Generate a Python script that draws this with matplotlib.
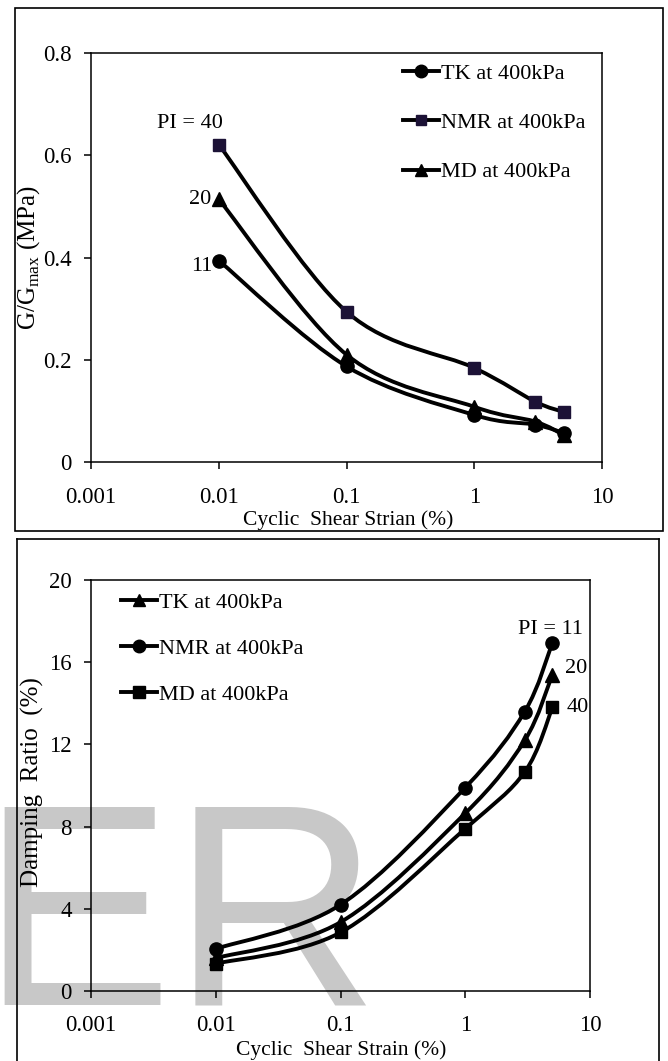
"""Modulus reduction and damping ratio curves at 400 kPa."""
import numpy as np
import matplotlib
matplotlib.use("Agg")
import matplotlib.pyplot as plt
from matplotlib.path import Path
from matplotlib.patches import PathPatch, Rectangle
from matplotlib.lines import Line2D

# --- data ---
strain = [0.01, 0.1, 1, 3, 5]

# top panel: G/Gmax
g_tk = [0.394, 0.187, 0.092, 0.073, 0.057]
g_nmr = [0.621, 0.294, 0.184, 0.118, 0.098]
g_md = [0.514, 0.210, 0.108, 0.079, 0.053]

# bottom panel: damping ratio (%)
d_tk = [1.6, 3.35, 8.65, 12.2, 15.4]
d_nmr = [2.05, 4.2, 9.9, 13.6, 16.95]
d_md = [1.33, 2.85, 7.9, 10.66, 13.8]

xticks = [0.001, 0.01, 0.1, 1, 10]
xtick_labels = ["0.001", "0.01", "0.1", "1", "10"]
g_ticks = [0, 0.2, 0.4, 0.6, 0.8]
g_tick_labels = ["0", "0.2", "0.4", "0.6", "0.8"]
d_ticks = [0, 4, 8, 12, 16, 20]
d_tick_labels = ["0", "4", "8", "12", "16", "20"]

plt.rcParams.update({
    "font.family": ["Liberation Serif", "DejaVu Serif"],
    "font.size": 16,
    "axes.linewidth": 1.1,
    "xtick.major.size": 5,
    "ytick.major.size": 5,
    "xtick.direction": "out",
    "ytick.direction": "out",
})

NAVY = "#1c1236"
LW = 2.8


def smooth_path(xs, ys):
    """Excel-like smoothed line: Catmull-Rom Bezier in (log x, y)."""
    pts = np.column_stack([np.log10(xs), np.asarray(ys, dtype=float)])
    n = len(pts)
    verts = [pts[0]]
    codes = [Path.MOVETO]
    for i in range(n - 1):
        p0 = pts[i - 1] if i > 0 else pts[i]
        p1, p2 = pts[i], pts[i + 1]
        p3 = pts[i + 2] if i + 2 < n else pts[i + 1]
        verts += [p1 + (p2 - p0) / 6, p2 - (p3 - p1) / 6, p2]
        codes += [Path.CURVE4] * 3
    verts = np.array(verts)
    verts[:, 0] = 10 ** verts[:, 0]
    return Path(verts, codes)


def draw_series(ax, ys, marker, ms, color="black"):
    ax.add_patch(PathPatch(smooth_path(strain, ys), fill=False, ec="black",
                           lw=LW, capstyle="round", joinstyle="round", zorder=2))
    ax.plot(strain, ys, ls="none", marker=marker, ms=ms, mfc=color, mec=color, zorder=3)


def style_axes(ax, yticks, ylabels, ylim):
    ax.set_xscale("log")
    ax.set_xlim(0.001, 10)
    ax.set_ylim(*ylim)
    ax.set_xticks(xticks)
    ax.set_xticklabels(xtick_labels)
    ax.xaxis.set_minor_locator(matplotlib.ticker.NullLocator())
    ax.set_yticks(yticks)
    ax.set_yticklabels(ylabels)
    ax.tick_params(axis="both", labelsize=16.5, width=1.1)
    ax.tick_params(axis="y", pad=9)
    ax.set_facecolor("none")


fig = plt.figure(figsize=(6.68, 10.61), dpi=100)

# watermark behind everything
fig.text(-0.03, 0.0528, "ER", fontsize=207, family=["Liberation Sans", "DejaVu Sans"],
         color="#c8c8c8", ha="left", va="baseline", zorder=-5)

# panel frames
fig.add_artist(Rectangle((15 / 668, 1 - 531 / 1061), 648 / 668, 523 / 1061,
                         transform=fig.transFigure, fill=False, ec="black", lw=1.2))
fig.add_artist(Line2D([17 / 668, 659 / 668], [1 - 539 / 1061] * 2,
                      transform=fig.transFigure, color="black", lw=1.2))
fig.add_artist(Line2D([17 / 668] * 2, [1 - 539 / 1061, 0],
                      transform=fig.transFigure, color="black", lw=1.2))
fig.add_artist(Line2D([659 / 668] * 2, [1 - 539 / 1061, 0],
                      transform=fig.transFigure, color="black", lw=1.2))

# --- top panel ---
ax1 = fig.add_axes([91 / 668, 1 - 462 / 1061, 511 / 668, 409 / 1061])
style_axes(ax1, g_ticks, g_tick_labels, (0, 0.8))
ax1.tick_params(axis="x", pad=13)
draw_series(ax1, g_tk, "o", 9.5)
draw_series(ax1, g_nmr, "s", 8, NAVY)
draw_series(ax1, g_md, "^", 10.5)

ax1.set_xlabel("Cyclic  Shear Strian (%)", fontsize=15.5)
ax1.xaxis.set_label_coords(0.503, -0.142)
ax1.xaxis.label.set_va("center")
ax1.set_ylabel("G/G$_{\\mathregular{max}}$ (MPa)", fontsize=18)
ax1.yaxis.set_label_coords(-0.122, 0.5)
ax1.yaxis.label.set_va("center")

ax1.text(0.0060, 0.663, "PI = 40", ha="center", va="center", fontsize=16)
ax1.text(0.0088, 0.513, "20", ha="right", va="center", fontsize=16)
ax1.text(0.0089, 0.382, "11", ha="right", va="center", fontsize=16)

h1 = [Line2D([], [], color="black", lw=LW, marker="o", ms=9),
      Line2D([], [], color="black", lw=LW, marker="s", ms=7, mfc=NAVY, mec=NAVY),
      Line2D([], [], color="black", lw=LW, marker="^", ms=9)]
ax1.legend(h1, ["TK at 400kPa", "NMR at 400kPa", "MD at 400kPa"],
           loc="upper left", bbox_to_anchor=(403 / 668, 1 - 63 / 1061),
           bbox_transform=fig.transFigure, frameon=False, fontsize=16,
           handlelength=1.6, handletextpad=0.1, labelspacing=1.3,
           borderpad=0, borderaxespad=0)

# --- bottom panel ---
ax2 = fig.add_axes([91 / 668, 1 - 991 / 1061, 499 / 668, 411 / 1061])
style_axes(ax2, d_ticks, d_tick_labels, (0, 20))
ax2.tick_params(axis="x", pad=12)
draw_series(ax2, d_nmr, "o", 9.5)
draw_series(ax2, d_tk, "^", 10.5)
draw_series(ax2, d_md, "s", 8.5)

ax2.set_xlabel("Cyclic  Shear Strain (%)", fontsize=15.5)
ax2.xaxis.set_label_coords(0.501, -0.143)
ax2.xaxis.label.set_va("center")
ax2.set_ylabel("Damping  Ratio  (%)", fontsize=18)
ax2.yaxis.set_label_coords(-0.118, 0.508)
ax2.yaxis.label.set_va("center")

ax2.text(4.78, 17.6, "PI = 11", ha="center", va="center", fontsize=16)
ax2.text(6.3, 15.7, "20", ha="left", va="center", fontsize=16)
ax2.text(6.5, 13.8, "40", ha="left", va="center", fontsize=16)

h2 = [Line2D([], [], color="black", lw=LW, marker="^", ms=9),
      Line2D([], [], color="black", lw=LW, marker="o", ms=9),
      Line2D([], [], color="black", lw=LW, marker="s", ms=8)]
ax2.legend(h2, ["TK at 400kPa", "NMR at 400kPa", "MD at 400kPa"],
           loc="upper left", bbox_to_anchor=(121 / 668, 1 - 592 / 1061),
           bbox_transform=fig.transFigure, frameon=False, fontsize=16,
           handlelength=1.6, handletextpad=0.1, labelspacing=1.15,
           borderpad=0, borderaxespad=0)

fig.savefig("out.png", dpi=100, facecolor="white")
